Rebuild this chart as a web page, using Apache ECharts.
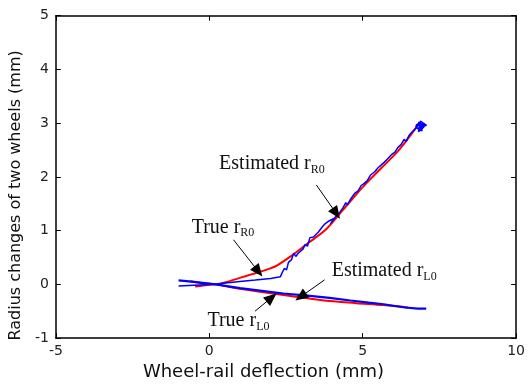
<!DOCTYPE html>
<html>
<head>
<meta charset="utf-8">
<script src="https://cdn.jsdelivr.net/npm/echarts@6/dist/echarts.min.js"></script>
<style>
  html, body { margin: 0; padding: 0; background: #fff; }
  #chart { width: 528px; height: 386px; }
</style>
</head>
<body>
<div id="chart"></div>
<script>
// Axis ranges and ticks
const xTicks = [-5, 0, 5, 10];
const yTicks = [-1, 0, 1, 2, 3, 4, 5];

// True radius change of the right wheel  [deflection, radius change]
const trueR0 = [
  [-0.46, -0.04], [-0.2, -0.02], [0.2, 0.0], [0.6, 0.05], [1.0, 0.12], [1.4, 0.19],
  [1.8, 0.26], [2.2, 0.35], [2.7, 0.54], [3.2, 0.76], [3.8, 1.02], [4.35, 1.38],
  [5.0, 1.81], [5.6, 2.16], [6.15, 2.48], [6.5, 2.73], [6.86, 3.02]
];

// True radius change of the left wheel
const trueL0 = [
  [-0.62, 0.06], [-0.2, 0.02], [0.2, 0.0], [1, -0.08], [2.42, -0.20], [3.2, -0.26],
  [3.92, -0.31], [4.8, -0.35], [5.68, -0.385], [6.48, -0.43]
];

// Estimated radius change of the right wheel
const estR0 = [
  [-1.0, -0.03], [-0.5, -0.015], [0.2, 0.0], [0.6, 0.03], [1.0, 0.055], [1.5, 0.08],
  [2.0, 0.11], [2.32, 0.14], [2.36, 0.20], [2.45, 0.30], [2.52, 0.27], [2.58, 0.41],
  [2.68, 0.46], [2.75, 0.58], [2.82, 0.52], [2.9, 0.58], [3.06, 0.66], [3.12, 0.74],
  [3.2, 0.71], [3.28, 0.87], [3.4, 0.88], [3.55, 0.97], [3.7, 1.08], [3.76, 1.12],
  [3.9, 1.18], [4.08, 1.23], [3.95, 1.13], [4.12, 1.26], [4.24, 1.33], [4.35, 1.42],
  [4.45, 1.52], [4.5, 1.48], [4.62, 1.60], [4.75, 1.70], [4.85, 1.74], [4.95, 1.84],
  [5.05, 1.88], [5.15, 1.93], [5.25, 2.03], [5.4, 2.10], [5.5, 2.17], [5.6, 2.22],
  [5.7, 2.27], [5.8, 2.33], [5.95, 2.42], [6.05, 2.46], [6.15, 2.55], [6.25, 2.60],
  [6.35, 2.70], [6.42, 2.66], [6.5, 2.76], [6.6, 2.83], [6.7, 2.88], [6.76, 2.92],
  [6.84, 3.02], [6.9, 2.88], [6.96, 3.00], [6.74, 2.97], [7.0, 2.93], [6.82, 2.84],
  [6.88, 3.04], [7.08, 2.96], [6.78, 2.90], [6.94, 2.86], [6.86, 2.99], [6.72, 2.94],
  [7.02, 2.99], [6.92, 2.92], [6.8, 2.98], [6.9, 2.95]
];

// Estimated radius change of the left wheel
const estL0 = [
  [-1.0, 0.075], [-0.5, 0.045], [0.2, 0.0], [1, -0.07], [2.42, -0.17], [3.2, -0.21],
  [3.92, -0.25], [4.6, -0.30], [5.2, -0.34], [5.68, -0.37], [6.38, -0.43],
  [6.8, -0.45], [7.07, -0.45]
];

// Annotation labels: [x, y, main text, subscript]
const labels = [
  [0.32, 2.22, 'Estimated r', 'R0'],
  [-0.575, 1.04, 'True r', 'R0'],
  [3.99, 0.23, 'Estimated r', 'L0'],
  [-0.06, -0.70, 'True r', 'L0']
];

// Annotation arrows: [x from, y from, x to, y to]
const arrows = [
  [3.49, 1.85, 4.14, 1.32],
  [0.79, 0.83, 1.60, 0.24],
  [3.76, 0.085, 2.98, -0.23],
  [1.49, -0.50, 2.03, -0.245]
];

const chart = echarts.init(document.getElementById('chart'), null, { renderer: 'canvas' });

const tickFont = { fontFamily: 'DejaVu Sans', fontSize: 14, color: '#222' };
const frameLine = { show: true, onZero: false, lineStyle: { color: '#000', width: 1.5 } };
const innerTick = { show: true, inside: true, length: 5, lineStyle: { color: '#000' } };

const rich = {
  a: { fontFamily: 'Liberation Serif', fontSize: 20, lineHeight: 22, verticalAlign: 'top', color: '#111' },
  s: { fontFamily: 'Liberation Serif', fontSize: 12, lineHeight: 12, padding: [9.7, 0, 0, 0], verticalAlign: 'top', color: '#111' }
};

chart.setOption({
  animation: false,
  backgroundColor: '#fff',
  grid: { left: 51.7, right: 8, top: 15.7, bottom: 44.3 },
  xAxis: [{
    type: 'value', min: xTicks[0], max: xTicks[xTicks.length - 1], interval: 5, position: 'bottom',
    name: 'Wheel-rail deflection (mm)', nameLocation: 'middle', nameGap: 22,
    nameTextStyle: { fontFamily: 'DejaVu Sans', fontSize: 18, color: '#111', padding: [0, 45, 0, 0] },
    axisLine: frameLine, axisTick: innerTick,
    axisLabel: Object.assign({ margin: 6 }, tickFont),
    splitLine: { show: false }
  }, {
    type: 'value', min: xTicks[0], max: xTicks[xTicks.length - 1], interval: 5, position: 'top',
    axisLine: frameLine, axisTick: innerTick,
    axisLabel: { show: false }, splitLine: { show: false }
  }],
  yAxis: [{
    type: 'value', min: yTicks[0], max: yTicks[yTicks.length - 1], interval: 1, position: 'left',
    name: 'Radius changes of two wheels (mm)', nameLocation: 'middle', nameGap: 25,
    nameTextStyle: { fontFamily: 'DejaVu Sans', fontSize: 16, color: '#111', padding: [0, 37, 0, 0] },
    axisLine: frameLine, axisTick: innerTick,
    axisLabel: Object.assign({ margin: 7 }, tickFont),
    splitLine: { show: false }
  }, {
    type: 'value', min: yTicks[0], max: yTicks[yTicks.length - 1], interval: 1, position: 'right',
    axisLine: frameLine, axisTick: innerTick,
    axisLabel: { show: false }, splitLine: { show: false }
  }],
  series: [
    { type: 'line', data: trueR0, showSymbol: false, smooth: 0.3, lineStyle: { color: '#ff0000', width: 2 } },
    { type: 'line', data: trueL0, showSymbol: false, smooth: 0.3, lineStyle: { color: '#ff0000', width: 2 } },
    { type: 'line', data: estR0, showSymbol: false, lineStyle: { color: '#0000ff', width: 1.5 } },
    { type: 'line', data: estL0, showSymbol: false, lineStyle: { color: '#0000ff', width: 2.2 } },
    {
      type: 'line', data: [], silent: true,
      markLine: {
        silent: true, animation: false,
        symbol: ['none', 'triangle'], symbolSize: [11, 13],
        label: { show: false },
        lineStyle: { color: '#000', width: 1, type: 'solid' },
        data: arrows.map(a => [{ coord: [a[0], a[1]] }, { coord: [a[2], a[3]] }])
      },
      markPoint: {
        silent: true, animation: false,
        symbol: 'circle', symbolSize: 0,
        data: labels.map(l => ({
          coord: [l[0], l[1]],
          label: {
            show: true, position: 'right', distance: 0,
            formatter: '{a|' + l[2] + '}{s|' + l[3] + '}', rich: rich
          }
        }))
      }
    }
  ]
});
</script>
</body>
</html>
